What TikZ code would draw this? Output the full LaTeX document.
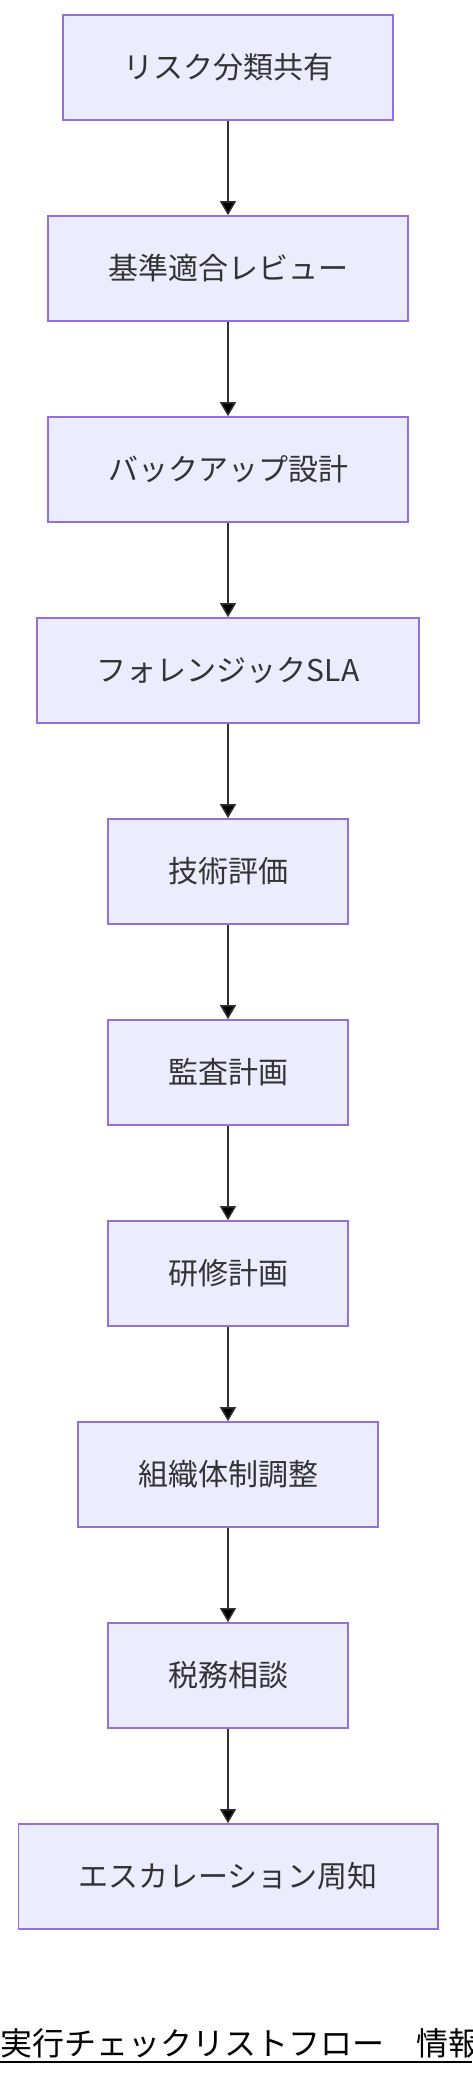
\documentclass[tikz,border=0pt]{standalone}
\usepackage{fontspec}
\setmainfont{Noto Sans CJK JP}
\usetikzlibrary{positioning,arrows.meta}
\definecolor{boxfill}{HTML}{ECECFF}
\definecolor{boxline}{HTML}{9370DB}
\definecolor{ink}{HTML}{333333}

\begin{document}
\begin{tikzpicture}[node distance=100.5pt,on grid,
	box/.style={draw=boxline, fill=boxfill, line width=0.8pt, text=ink,
		minimum height=52.5pt, inner xsep=30pt,
		font=\fontsize{15pt}{18pt}\selectfont},
	flow/.style={draw=ink, line width=0.75pt, -{Triangle[length=7pt,width=8pt]}}]
	\useasboundingbox (0,0) rectangle (236pt,-1038pt);
	\node[box] (risk) at (114pt,-33.75pt) {リスク分類共有};
	\node[box] (kijun) [below=of risk] {基準適合レビュー};
	\node[box] (backup) [below=of kijun] {バックアップ設計};
	\node[box] (forensic) [below=of backup] {フォレンジックSLA};
	\node[box] (gijutsu) [below=of forensic] {技術評価};
	\node[box] (kansa) [below=of gijutsu] {監査計画};
	\node[box] (kenshu) [below=of kansa] {研修計画};
	\node[box] (soshiki) [below=of kenshu] {組織体制調整};
	\node[box] (zeimu) [below=of soshiki] {税務相談};
	\node[box] (escal) [below=of zeimu] {エスカレーション周知};
	\path[flow]
	(risk) edge (kijun)
	(kijun) edge (backup)
	(backup) edge (forensic)
	(forensic) edge (gijutsu)
	(gijutsu) edge (kansa)
	(kansa) edge (kenshu)
	(kenshu) edge (soshiki)
	(soshiki) edge (zeimu)
	(zeimu) edge (escal);
	% title, cut off at the right edge
	\node[anchor=base west, inner sep=0pt, font=\fontsize{16pt}{19pt}\selectfont]
		(title) at (0,-1027.5pt) {実行チェックリストフロー　情報};
	\draw[line width=0.75pt] (0,-1031pt) -- (236pt,-1031pt);
\end{tikzpicture}
\end{document}
